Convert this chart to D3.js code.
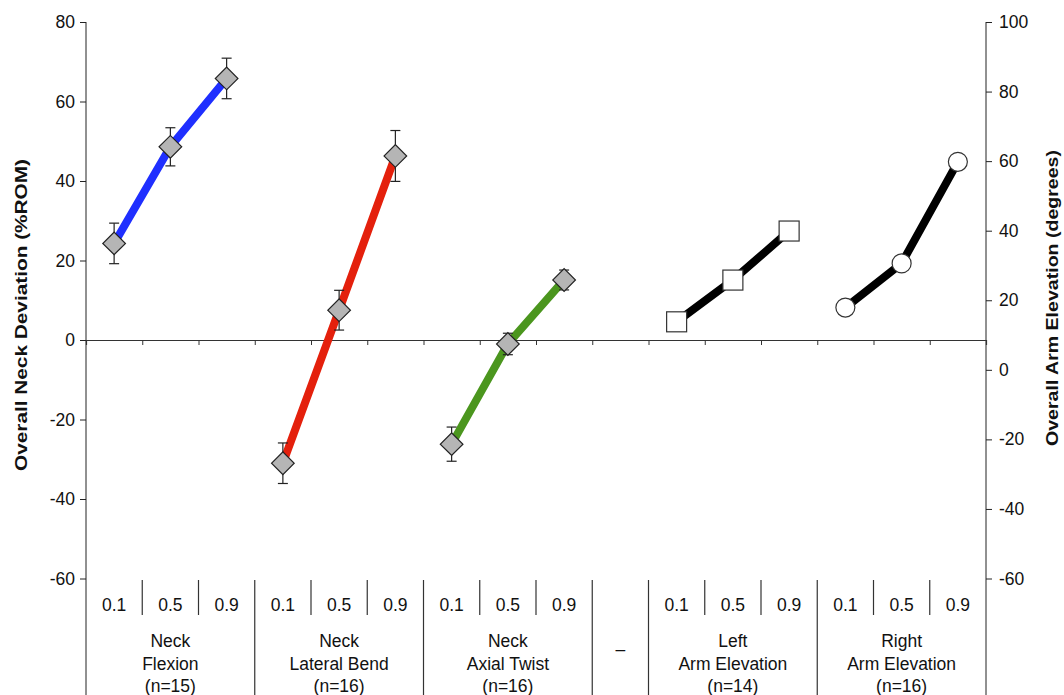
<!DOCTYPE html>
<html><head><meta charset="utf-8">
<script src="https://cdn.jsdelivr.net/npm/d3@7"></script>
<style>body{margin:0;background:#fff}svg{display:block}text{font-family:"Liberation Sans",Arial,sans-serif}</style>
</head><body><svg id="c" width="1064" height="695"></svg>
<script>
// ---- data ----
const levels = ["0.1", "0.5", "0.9"];
const groupNames = [
  ["Neck", "Flexion", "(n=15)"],
  ["Neck", "Lateral Bend", "(n=16)"],
  ["Neck", "Axial Twist", "(n=16)"],
  ["Left", "Arm Elevation", "(n=14)"],
  ["Right", "Arm Elevation", "(n=16)"]
];
const gapLabel = "–";
const leftTicks = [80, 60, 40, 20, 0, -20, -40, -60];
const rightTicks = [100, 80, 60, 40, 20, 0, -20, -40, -60];
const neckFlexion = [24.3, 48.6, 65.8];
const neckFlexionErr = [5.1, 4.8, 5.1];
const neckLateral = [-31.0, 7.5, 46.3];
const neckLateralErr = [5.1, 5.0, 6.4];
const neckAxial = [-26.2, -1.0, 15.1];
const neckAxialErr = [4.3, 2.7, 2.5];
const leftArm = [13.8, 25.8, 39.9];
const rightArm = [17.9, 30.6, 59.8];

// ---- layout ----
const svg = d3.select("#c");
const FS = 17.5;
const X0 = 86, X1 = 986, YT = 22, YB = 578.5;
const slot = d3.scaleLinear().domain([0, 16]).range([X0, X1]);
const yL = d3.scaleLinear().domain([-60, 80]).range([YB, YT]);
const yR = d3.scaleLinear().domain([-60, 100]).range([YB, YT]);
const fmt = d => String(d);

const series = [
  {vals: neckFlexion, err: neckFlexionErr, start: 0, color: "#1f2fff", axis: yL, shape: "diamond"},
  {vals: neckLateral, err: neckLateralErr, start: 3, color: "#e4200c", axis: yL, shape: "diamond"},
  {vals: neckAxial, err: neckAxialErr, start: 6, color: "#4b961e", axis: yL, shape: "diamond"},
  {vals: leftArm, err: null, start: 10, color: "#000", axis: yR, shape: "square"},
  {vals: rightArm, err: null, start: 13, color: "#000", axis: yR, shape: "circle"}
];

// left axis
const gL = svg.append("g").attr("transform", `translate(${X0},0)`)
  .call(d3.axisLeft(yL).tickValues(leftTicks).tickFormat(fmt).tickSize(6).tickPadding(5));
gL.select(".domain").remove();
gL.append("line").attr("x1", 0).attr("x2", 0).attr("y1", YT).attr("y2", 695).attr("stroke", "#222");
gL.selectAll(".tick line").attr("stroke", "#222");
gL.selectAll("text").attr("font-size", FS).attr("fill", "#111").style("font-family", "'Liberation Sans',Arial,sans-serif");

// right axis
const gR = svg.append("g").attr("transform", `translate(${X1},0)`)
  .call(d3.axisRight(yR).tickValues(rightTicks).tickFormat(fmt).tickSize(6).tickPadding(7));
gR.select(".domain").remove();
gR.append("line").attr("x1", 0).attr("x2", 0).attr("y1", YT).attr("y2", 695).attr("stroke", "#222");
gR.selectAll(".tick line").attr("stroke", "#222");
gR.selectAll("text").attr("font-size", FS).attr("fill", "#111").style("font-family", "'Liberation Sans',Arial,sans-serif");

// zero axis with ticks at slot boundaries
const gZ = svg.append("g").attr("transform", `translate(0,${yL(0)})`)
  .call(d3.axisBottom(slot).tickValues(d3.range(0, 17)).tickSize(5).tickFormat(""));
gZ.select(".domain").attr("stroke", "#333").attr("stroke-width", 1.2);
gZ.selectAll(".tick line").attr("stroke", "#333");

// axis titles
svg.append("text").attr("transform", `translate(27,315) rotate(-90)`)
  .attr("text-anchor", "middle").attr("font-size", 17).attr("font-weight", "bold").attr("fill", "#111")
  .attr("textLength", 312).attr("lengthAdjust", "spacingAndGlyphs")
  .text("Overall Neck Deviation (%ROM)");
svg.append("text").attr("transform", `translate(1058,298) rotate(-90)`)
  .attr("text-anchor", "middle").attr("font-size", 17).attr("font-weight", "bold").attr("fill", "#111")
  .attr("textLength", 296).attr("lengthAdjust", "spacingAndGlyphs")
  .text("Overall Arm Elevation (degrees)");

// category table
const cat = svg.append("g");
const groupStarts = [0, 3, 6, 10, 13];
const majorBounds = [3, 6, 9, 10, 13];
const minorBounds = [];
groupStarts.forEach(s => { minorBounds.push(s + 1, s + 2); });
cat.selectAll("line.minor").data(minorBounds).join("line")
  .attr("x1", d => slot(d)).attr("x2", d => slot(d)).attr("y1", 580).attr("y2", 615)
  .attr("stroke", "#333").attr("stroke-width", 1.2);
cat.selectAll("line.major").data(majorBounds).join("line")
  .attr("x1", d => slot(d)).attr("x2", d => slot(d)).attr("y1", 580).attr("y2", 695)
  .attr("stroke", "#333").attr("stroke-width", 1.2);
groupStarts.forEach((s, gi) => {
  levels.forEach((lv, i) => {
    cat.append("text").attr("x", slot(s + i + 0.5)).attr("y", 611).attr("text-anchor", "middle")
      .attr("font-size", FS).attr("fill", "#111").text(lv);
  });
  groupNames[gi].forEach((ln, li) => {
    cat.append("text").attr("x", slot(s + 1.5)).attr("y", 647 + li * 22.5).attr("text-anchor", "middle")
      .attr("font-size", FS).attr("fill", "#111").text(ln);
  });
});
cat.append("text").attr("x", slot(9.5)).attr("y", 655).attr("text-anchor", "middle")
  .attr("font-size", FS).attr("fill", "#111").text(gapLabel);

// series
const line = d3.line();
series.forEach(s => {
  const pts = s.vals.map((v, i) => [slot(s.start + i + 0.5), s.axis(v)]);
  svg.append("path").attr("d", line(pts)).attr("fill", "none")
    .attr("stroke", s.color).attr("stroke-width", 8).attr("stroke-linejoin", "round");
  if (s.err) {
    s.vals.forEach((v, i) => {
      const x = pts[i][0], y1 = s.axis(v + s.err[i]), y2 = s.axis(v - s.err[i]);
      const g = svg.append("g").attr("stroke", "#222").attr("stroke-width", 1.2);
      g.append("line").attr("x1", x).attr("x2", x).attr("y1", y1).attr("y2", y2);
      g.append("line").attr("x1", x - 5).attr("x2", x + 5).attr("y1", y1).attr("y2", y1);
      g.append("line").attr("x1", x - 5).attr("x2", x + 5).attr("y1", y2).attr("y2", y2);
    });
  }
  pts.forEach(p => {
    if (s.shape === "diamond") {
      svg.append("path").attr("transform", `translate(${p[0]},${p[1]}) rotate(45)`)
        .attr("d", "M-8,-8H8V8H-8Z").attr("fill", "#b5b5b5").attr("stroke", "#222").attr("stroke-width", 1.2);
    } else if (s.shape === "square") {
      svg.append("rect").attr("x", p[0] - 10).attr("y", p[1] - 10).attr("width", 20).attr("height", 20)
        .attr("fill", "#fff").attr("stroke", "#333").attr("stroke-width", 1.2);
    } else {
      svg.append("circle").attr("cx", p[0]).attr("cy", p[1]).attr("r", 9.5)
        .attr("fill", "#fff").attr("stroke", "#333").attr("stroke-width", 1.2);
    }
  });
});
</script></body></html>
